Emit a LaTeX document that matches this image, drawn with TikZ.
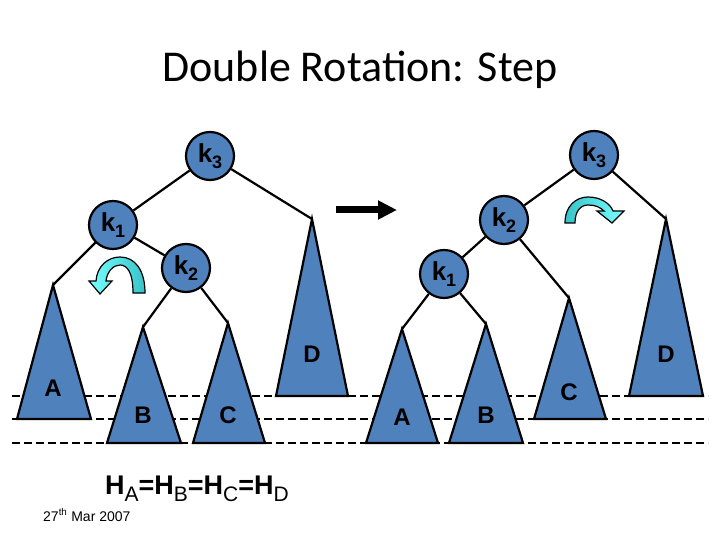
\documentclass[tikz,border=0pt]{standalone}
\usepackage{fontspec}
\setmainfont{Liberation Sans}
\newfontfamily\titlefont{Carlito}
\usetikzlibrary{arrows.meta}
\definecolor{nodeblue}{RGB}{79,129,189}
\definecolor{turnlight}{RGB}{120,255,255}
\definecolor{turndark}{RGB}{55,195,200}
\newcommand{\kkey}[1]{k\raisebox{-0.45ex}{\fontsize{18}{18}\selectfont #1}}
\newcommand{\hsub}[1]{\textbf{H}\raisebox{-0.5ex}{\fontsize{21}{21}\selectfont #1}}

\begin{document}
\begin{tikzpicture}[x=1pt, y=-1pt,
    key/.style={circle, draw, line width=2.2pt, fill=nodeblue, minimum size=48pt,
      inner sep=0pt, font=\bfseries\fontsize{26}{26}\selectfont},
    subtree/.style={draw, line width=2.2pt, fill=nodeblue, line join=miter},
    treelabel/.style={font=\bfseries\fontsize{24}{24}\selectfont},
    link/.style={line width=2.2pt},
    level/.style={line width=2pt, dash pattern=on 8pt off 4pt}]
  % Page
  \fill[white] (0,0) rectangle (720,540);
  \useasboundingbox (0,0) rectangle (720,540);
  \node[font=\titlefont\fontsize{44}{44}\selectfont] (title) at (360,70) {Double Rotation: Step};

  % Height levels
  \foreach \y in {396,419,443}{
    \draw[level] (12,\y) -- (708,\y);
  }

  % Subtrees: name/apex x/apex y/base left/base right/base y
  \foreach \name/\ax/\ay/\bl/\br/\by in {
    LA/53/285/17/91/419,
    LB/143/327/107/181/443,
    LC/228/323/193/265/443,
    LD/312/219/276/348/396,
    RA/402/329/366/438/443,
    RB/486/324/449/523/443,
    RC/569/298/534/606/419,
    RD/666/219/629/703/396%
  }{
    \coordinate (\name) at (\ax,\ay);
    \filldraw[subtree] (\name) -- (\br,\by) -- (\bl,\by) -- cycle;
  }
  \node[treelabel] (LAt) at (53,388) {A};
  \node[treelabel] (LBt) at (143,415) {B};
  \node[treelabel] (LCt) at (228,415) {C};
  \node[treelabel] (LDt) at (312,354) {D};
  \node[treelabel] (RAt) at (402,417) {A};
  \node[treelabel] (RBt) at (486,415) {B};
  \node[treelabel] (RCt) at (569,392) {C};
  \node[treelabel] (RDt) at (666,354) {D};

  % Left tree
  \node[key] (Lk3) at (210,156) {\kkey{3}};
  \node[key] (Lk1) at (113,225) {\kkey{1}};
  \node[key] (Lk2) at (186,268) {\kkey{2}};
  \draw[link] (Lk3) -- (Lk1);
  \draw[link] (Lk3) -- (LD);
  \draw[link] (Lk1) -- (LA);
  \draw[link] (Lk1) -- (Lk2);
  \draw[link] (Lk2) -- (LB);
  \draw[link] (Lk2) -- (LC);

  % Right tree
  \node[key] (Rk3) at (594,155) {\kkey{3}};
  \node[key] (Rk2) at (504,220) {\kkey{2}};
  \node[key] (Rk1) at (444,274) {\kkey{1}};
  \draw[link] (Rk3) -- (Rk2);
  \draw[link] (Rk3) -- (RD);
  \draw[link] (Rk2) -- (Rk1);
  \draw[link] (Rk2) -- (RC);
  \draw[link] (Rk1) -- (RA);
  \draw[link] (Rk1) -- (RB);

  % Rotation arrows
  \path[draw, line width=1.2pt, left color=turnlight, right color=turndark]
    (145,293) -- (133,293)
    .. controls (133,272) and (127,265) .. (120,265)
    .. controls (113,265) and (107,272) .. (106,281)
    -- (112,281) -- (100,294) -- (89,281) -- (96,281)
    .. controls (97,266) and (108,257) .. (120,257)
    .. controls (135,257) and (145,270) .. (145,293) -- cycle;
  \path[draw, line width=1.2pt, left color=turndark, right color=turnlight]
    (565,223) .. controls (565,206) and (576,197) .. (588,197)
    .. controls (600,197) and (610,203) .. (613,211)
    -- (624,211) -- (612,223) -- (597,211) -- (604,211)
    .. controls (600,207) and (595,205) .. (588,205)
    .. controls (580,205) and (575,212) .. (575,223) -- cycle;

  % Step arrow
  \coordinate (go1) at (336,210);
  \coordinate (go2) at (397,210);
  \draw[line width=7pt, -{Triangle[length=19pt,width=18pt]}] (go1) -- (go2);

  % Footer
  \node[font=\fontsize{27}{27}\selectfont] (heights) at (197,489)
    {\hsub{A}\textbf{=}\hsub{B}\textbf{=}\hsub{C}\textbf{=}\hsub{D}};
  \node[anchor=west, inner sep=0pt, font=\fontsize{14}{14}\selectfont] (date) at (43,515)
    {27\textsuperscript{th} Mar 2007};
\end{tikzpicture}
\end{document}
